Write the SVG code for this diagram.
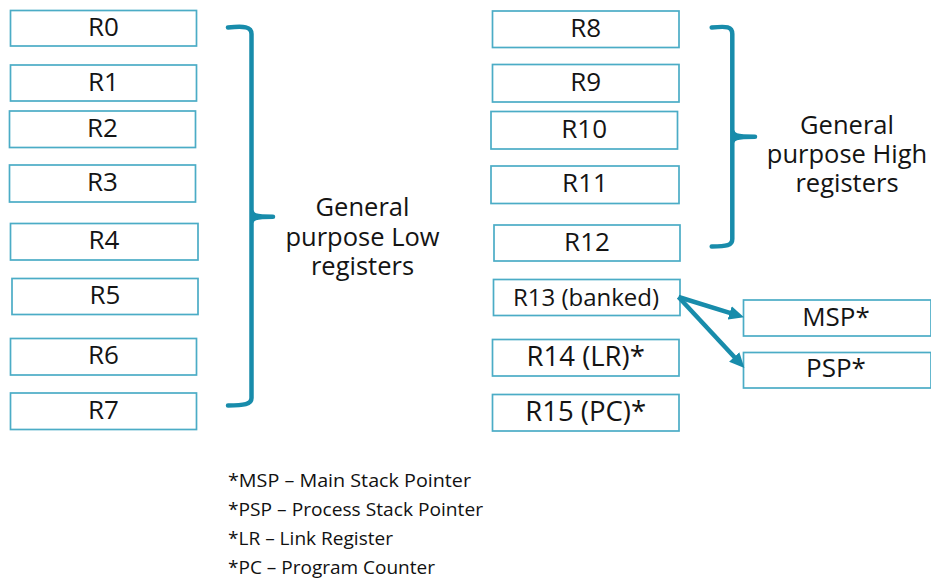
<svg xmlns="http://www.w3.org/2000/svg" width="931" height="579" viewBox="0 0 931 579">
  <defs>
    <style>
      .box { fill: #ffffff; stroke: #4bacc6; stroke-width: 1.7; }
      .lbl { font-family: "Open Sans", "Liberation Sans", sans-serif; font-size: 26px; fill: #141414; text-anchor: middle; }
      .big { font-size: 27.5px; }
      .small { font-size: 24px; }
      .group { font-family: "Open Sans", "Liberation Sans", sans-serif; font-size: 25.5px; fill: #141414; text-anchor: middle; }
      .note { font-family: "Open Sans", "Liberation Sans", sans-serif; font-size: 17.5px; fill: #111111; }
      .brace { fill: none; stroke: #188cab; stroke-width: 4.5; stroke-linecap: round; stroke-linejoin: round; }
      .link { fill: none; stroke: #188cab; stroke-width: 4.5; marker-end: url(#head); }
    </style>
    <marker id="head" markerUnits="userSpaceOnUse" markerWidth="16" markerHeight="14" refX="6" refY="7" orient="auto">
      <path d="M0,0 L15,7 L0,14 z" fill="#188cab"/>
    </marker>
  </defs>

  <!-- Low registers -->
  <g id="r0"><rect class="box" x="10.5" y="10.5" width="186" height="35.5"/><text class="lbl" x="103.5" y="35.8">R0</text></g>
  <g id="r1"><rect class="box" x="10.5" y="65" width="186" height="36"/><text class="lbl" x="103.5" y="90.5">R1</text></g>
  <g id="r2"><rect class="box" x="9.5" y="111" width="186" height="36.5"/><text class="lbl" x="102.5" y="136.8">R2</text></g>
  <g id="r3"><rect class="box" x="9.5" y="165" width="186" height="37"/><text class="lbl" x="102.5" y="191">R3</text></g>
  <g id="r4"><rect class="box" x="10.5" y="223.5" width="187.5" height="36.5"/><text class="lbl" x="104" y="249.3">R4</text></g>
  <g id="r5"><rect class="box" x="12" y="278.5" width="186" height="36"/><text class="lbl" x="105" y="304">R5</text></g>
  <g id="r6"><rect class="box" x="10.5" y="338.5" width="186" height="36.5"/><text class="lbl" x="103.5" y="364.3">R6</text></g>
  <g id="r7"><rect class="box" x="10.5" y="393" width="186" height="36.5"/><text class="lbl" x="103.5" y="418.8">R7</text></g>

  <!-- High registers -->
  <g id="r8"><rect class="box" x="492.5" y="11" width="186.5" height="36.5"/><text class="lbl" x="585.7" y="36.7">R8</text></g>
  <g id="r9"><rect class="box" x="492.5" y="64.5" width="186.5" height="37.5"/><text class="lbl" x="585.7" y="90.7">R9</text></g>
  <g id="r10"><rect class="box" x="491" y="111.5" width="186.5" height="37.5"/><text class="lbl" x="584.2" y="137.7">R10</text></g>
  <g id="r11"><rect class="box" x="491" y="166" width="188" height="37.5"/><text class="lbl" x="585" y="192.2">R11</text></g>
  <g id="r12"><rect class="box" x="494" y="225" width="186" height="36"/><text class="lbl" x="587" y="250.5">R12</text></g>

  <!-- Special registers -->
  <g id="r13"><rect class="box" x="493.5" y="279.5" width="186.5" height="36"/><text class="lbl small" x="586" y="305.5">R13 (banked)</text></g>
  <g id="r14"><rect class="box" x="492.5" y="339.5" width="186.5" height="36.5"/><text class="lbl big" x="585.7" y="366">R14 (LR)*</text></g>
  <g id="r15"><rect class="box" x="492.5" y="394.5" width="186.5" height="36.5"/><text class="lbl big" x="585.7" y="421">R15 (PC)*</text></g>
  <g id="msp"><rect class="box" x="743.5" y="300" width="187.5" height="36"/><text class="lbl" x="836" y="325.5">MSP*</text></g>
  <g id="psp"><rect class="box" x="743.5" y="352.5" width="187.5" height="35.5"/><text class="lbl" x="836" y="377">PSP*</text></g>

  <!-- Group braces and captions -->
  <g id="low-group">
    <path class="brace" d="M228,27.5 C244,26 251.5,26.5 251.5,34 L251.5,210 C251.5,215.5 255,216.7 273,216.7 M251.5,210 L251.5,223 C251.5,218 255,216.7 273,216.7 M251.5,223 L251.5,398 C251.5,404.5 244,405.5 228,405.5"/>
    <text class="group" x="362.5" y="216">General<tspan x="362.5" dy="29.5">purpose Low</tspan><tspan x="362.5" dy="29">registers</tspan></text>
  </g>
  <g id="high-group">
    <path class="brace" d="M711.7,27.5 C727,26 732.3,26.5 732.3,34 L732.3,130 C732.3,135.5 736,136.7 755,136.7 M732.3,130 L732.3,143 C732.3,138 736,136.7 755,136.7 M732.3,143 L732.3,239 C732.3,245.5 727,246.5 711.7,246.5"/>
    <text class="group" x="847" y="134">General<tspan x="847" dy="29">purpose High</tspan><tspan x="847" dy="29">registers</tspan></text>
  </g>

  <!-- Connectors -->
  <g id="connectors">
    <path class="link" d="M678.5,297 L735.4,314.6"/>
    <path class="link" d="M678.5,297 L738.3,361.3"/>
  </g>

  <!-- Legend -->
  <g id="legend">
    <text class="note" x="228" y="486.5" textLength="243" lengthAdjust="spacingAndGlyphs">*MSP – Main Stack Pointer</text>
    <text class="note" x="228" y="515.5" textLength="255" lengthAdjust="spacingAndGlyphs">*PSP – Process Stack Pointer</text>
    <text class="note" x="228" y="544.5" textLength="165" lengthAdjust="spacingAndGlyphs">*LR – Link Register</text>
    <text class="note" x="228" y="573.5" textLength="207" lengthAdjust="spacingAndGlyphs">*PC – Program Counter</text>
  </g>
</svg>
